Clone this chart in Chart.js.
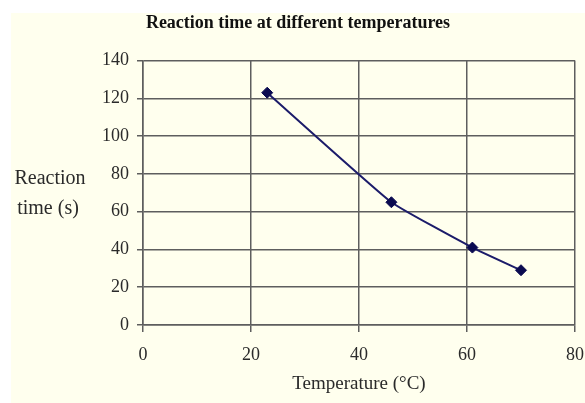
<!DOCTYPE html>
<html>
<head>
<meta charset="utf-8">
<script src="https://cdn.jsdelivr.net/npm/chart.js@4"></script>
<style>
    html, body { margin: 0; padding: 0; background: #ffffff; }
    #wrap {
        position: absolute;
        left: 11px;
        top: 13px;
        width: 574px;
        height: 390px;
        background: #ffffee;
    }
</style>
</head>
<body>
<div id="wrap"><canvas id="tempChart" width="574" height="390"></canvas></div>
<script>
const temperatures = [23, 46, 61, 70];
const reactionTimes = [123, 65, 41, 29];
const xTicks = [0, 20, 40, 60, 80];
const yTicks = [0, 20, 40, 60, 80, 100, 120, 140];

const serif = '"Liberation Serif", "Times New Roman", serif';
const gridColor = '#5e5e5e';

// y axis title sits horizontally to the left of the ticks, so draw it by hand
const yTitlePlugin = {
    id: 'yTitle',
    afterDraw(chart) {
        const ctx = chart.ctx;
        const area = chart.chartArea;
        const mid = (area.top + area.bottom) / 2;
        ctx.save();
        ctx.font = '20px ' + serif;
        ctx.fillStyle = '#2a2a2a';
        ctx.textAlign = 'center';
        ctx.textBaseline = 'middle';
        ctx.fillText('Reaction', area.left - 93, mid - 14);
        ctx.fillText('time (s)', area.left - 95, mid + 16);
        ctx.restore();
    }
};

const points = temperatures.map((t, i) => ({ x: t, y: reactionTimes[i] }));

new Chart(document.getElementById('tempChart').getContext('2d'), {
    type: 'scatter',
    data: {
        datasets: [{
            data: points,
            showLine: true,
            borderColor: '#1c1c6a',
            borderWidth: 2,
            tension: 0.12,
            pointStyle: 'rectRot',
            pointRadius: 5.5,
            pointBackgroundColor: '#0a0a50',
            pointBorderColor: '#0a0a50',
            pointBorderWidth: 1
        }]
    },
    options: {
        responsive: false,
        animation: false,
        layout: { padding: { left: 0, right: 0, top: 0, bottom: 0 } },
        plugins: {
            legend: { display: false },
            tooltip: { enabled: false },
            title: {
                display: true,
                text: 'Reaction time at different temperatures',
                color: '#111',
                font: { family: serif, size: 18, weight: 'bold' },
                padding: { top: 0, bottom: 26 }
            }
        },
        scales: {
            x: {
                type: 'linear',
                min: 0,
                max: 80,
                afterBuildTicks: s => { s.ticks = xTicks.map(v => ({ value: v })); },
                afterFit: s => {
                    s.height = 78;
                    s.paddingLeft = 0;
                    s.paddingRight = 10;
                },
                ticks: {
                    color: '#2a2a2a',
                    font: { family: serif, size: 18 },
                    padding: 12,
                    maxRotation: 0
                },
                grid: { color: gridColor, lineWidth: 1.5, tickLength: 7 },
                border: { color: gridColor, width: 1.5 },
                title: {
                    display: true,
                    text: 'Temperature (°C)',
                    color: '#2a2a2a',
                    font: { family: serif, size: 19 },
                    padding: { top: 0, bottom: 8 }
                }
            },
            y: {
                min: 0,
                max: 140,
                afterBuildTicks: s => { s.ticks = yTicks.map(v => ({ value: v })); },
                afterFit: s => { s.width = 132; },
                ticks: {
                    color: '#2a2a2a',
                    font: { family: serif, size: 18 },
                    padding: 8
                },
                grid: { color: gridColor, lineWidth: 1.5, tickLength: 6 },
                border: { color: gridColor, width: 1.5 }
            }
        }
    },
    plugins: [yTitlePlugin]
});
</script>
</body>
</html>
